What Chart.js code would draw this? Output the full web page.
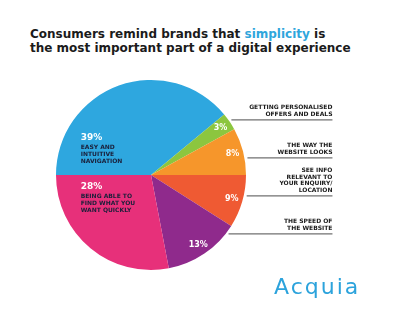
<!DOCTYPE html>
<html lang="en">
<head>
  <meta charset="UTF-8" />
  <title>Simplicity pie</title>
  <script src="https://cdn.jsdelivr.net/npm/chart.js"></script>
  <style>
    html, body { margin: 0; padding: 0; background: #fff; }
    #wrap { position: relative; width: 394px; height: 327px; overflow: hidden; }
    #title {
      position: absolute; left: 30px; top: 27px;
      font: bold 12px "DejaVu Sans", sans-serif; line-height: 14px; color: #1b1b1b;
      white-space: nowrap;
    }
    #title span { color: #2fa6dc; }
    #logo {
      position: absolute; left: 274px; top: 275px;
      font: normal 22px "DejaVu Sans", sans-serif; color: #2ca3dc; letter-spacing: 2px;
      line-height: 24px;
    }
    canvas { position: absolute; left: 0; top: 0; }
  </style>
</head>
<body>
  <div id="wrap">
    <div id="title">Consumers remind brands that <span>simplicity</span> is<br>the most important part of a digital experience</div>
    <canvas id="pie" width="394" height="327"></canvas>
    <div id="logo">Acquia</div>
  </div>

  <script>
    // data
    const categories = [
      "EASY AND INTUITIVE NAVIGATION",
      "GETTING PERSONALISED OFFERS AND DEALS",
      "THE WAY THE WEBSITE LOOKS",
      "SEE INFO RELEVANT TO YOUR ENQUIRY/ LOCATION",
      "THE SPEED OF THE WEBSITE",
      "BEING ABLE TO FIND WHAT YOU WANT QUICKLY"
    ];
    const shares = [39, 3, 8, 9, 13, 28];
    const colors = ["#2ea7df", "#8cc63f", "#f6962b", "#ef5a33", "#8f2a8c", "#e7307a"];

    // label lines as printed
    const insideLines = {
      0: ["EASY AND", "INTUITIVE", "NAVIGATION"],
      5: ["BEING ABLE TO", "FIND WHAT YOU", "WANT QUICKLY"]
    };
    const sideLines = {
      1: ["GETTING PERSONALISED", "OFFERS AND DEALS"],
      2: ["THE WAY THE", "WEBSITE LOOKS"],
      3: ["SEE INFO", "RELEVANT TO", "YOUR ENQUIRY/", "LOCATION"],
      4: ["THE SPEED OF", "THE WEBSITE"]
    };

    const labelPlugin = {
      id: "labels",
      afterDatasetsDraw(chart) {
        const ctx = chart.ctx;
        const arcs = chart.getDatasetMeta(0).data;
        const cx = arcs[0].x, cy = arcs[0].y, r = arcs[0].outerRadius;
        ctx.save();

        // percent labels on the small slices
        ctx.fillStyle = "#fff";
        ctx.font = "bold 8px 'DejaVu Sans', sans-serif";
        ctx.textAlign = "center";
        ctx.textBaseline = "middle";
        arcs.forEach((a, i) => {
          if (insideLines[i]) return;
          const mid = (a.startAngle + a.endAngle) / 2;
          const rr = r * 0.885;
          ctx.fillText(shares[i] + "%", cx + Math.cos(mid) * rr, cy + Math.sin(mid) * rr);
        });

        // big slices: percent + description, left aligned
        const blocks = { 0: -37, 5: 12 };
        Object.keys(insideLines).forEach(k => {
          const x = cx - r * 0.74;
          let y = cy + blocks[k];
          ctx.textAlign = "left";
          ctx.fillStyle = "#fff";
          ctx.font = "bold 9px 'DejaVu Sans', sans-serif";
          ctx.fillText(shares[k] + "%", x, y);
          ctx.fillStyle = "#1a1f3a";
          ctx.font = "bold 6px 'DejaVu Sans', sans-serif";
          y += 9;
          insideLines[k].forEach(t => { ctx.fillText(t, x, y); y += 7; });
        });

        // right side descriptions with rules
        const right = cx + r * 1.91;
        Object.keys(sideLines).forEach((k, j) => {
          const ly = cy + (j - 1.45) * 38;
          const dy = ly - cy;
          const x0 = cx + Math.sqrt(Math.max(0, r * r - dy * dy)) + 3;
          ctx.strokeStyle = "#707070";
          ctx.lineWidth = 1.3;
          ctx.beginPath();
          ctx.moveTo(x0, ly);
          ctx.lineTo(right, ly);
          ctx.stroke();
          const lines = sideLines[k];
          ctx.fillStyle = "#1a1a1a";
          ctx.font = "bold 6px 'DejaVu Sans', sans-serif";
          ctx.textAlign = "right";
          ctx.textBaseline = "alphabetic";
          lines.forEach((t, n) => {
            ctx.fillText(t, right, ly - 4 - (lines.length - 1 - n) * 6.5);
          });
        });
        ctx.restore();
      }
    };

    new Chart(document.getElementById("pie"), {
      type: "pie",
      data: {
        labels: categories,
        datasets: [{
          data: shares,
          backgroundColor: colors,
          borderWidth: 0
        }]
      },
      options: {
        responsive: false,
        animation: false,
        rotation: -90,
        layout: { padding: { left: 56, top: 80, right: 148, bottom: 57 } },
        plugins: { legend: { display: false }, tooltip: { enabled: false } }
      },
      plugins: [labelPlugin]
    });
  </script>
</body>
</html>
